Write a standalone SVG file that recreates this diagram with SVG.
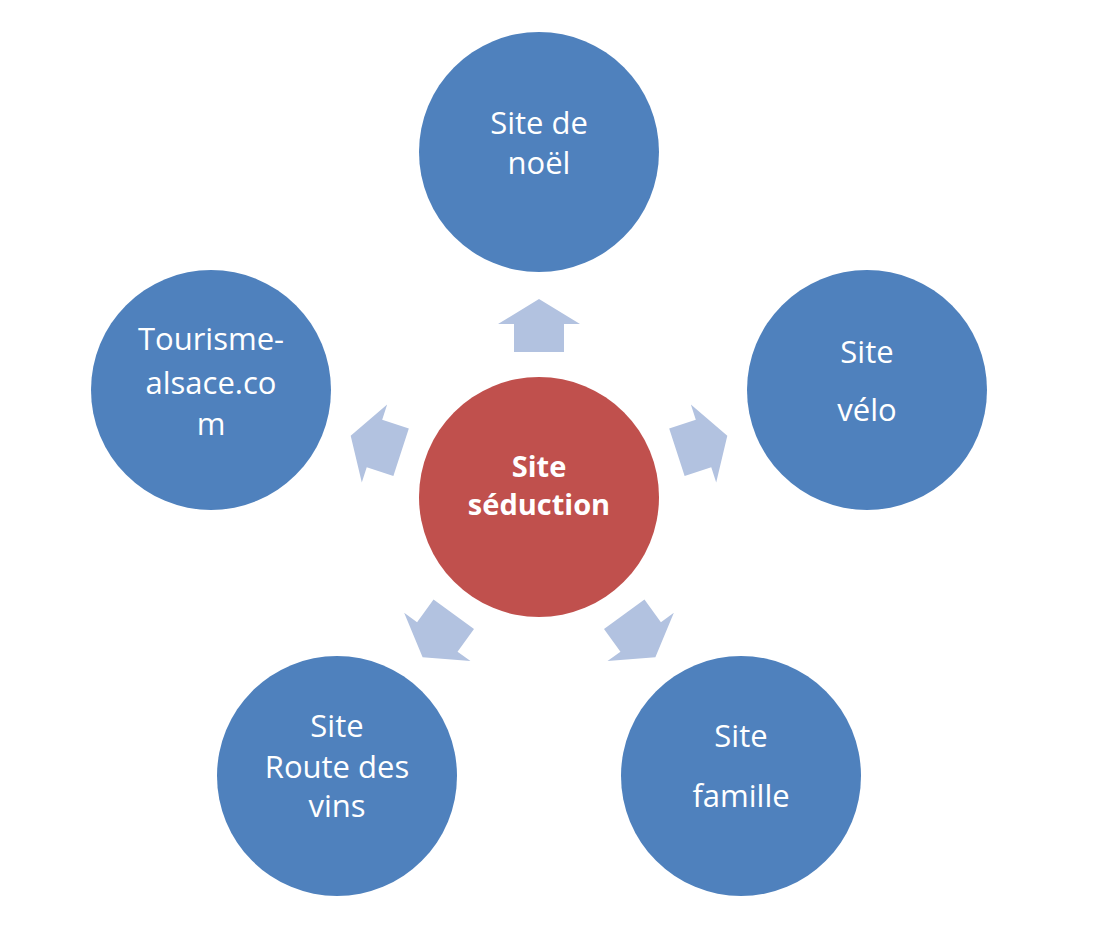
<svg xmlns="http://www.w3.org/2000/svg" width="1094" height="932" viewBox="0 0 1094 932">
<defs>
<style>
.n{fill:#4F81BD}
.c{fill:#C0504D}
.a{fill:#B2C2E0}
text{font-family:"Open Sans","Noto Sans",sans-serif;font-size:31px;fill:#fff;text-anchor:middle}
.b{font-weight:bold;font-size:29px}
</style>
<path id="arr" d="M539,299 L580,324 L564,324 L564,352 L514,352 L514,324 L498,324 Z"/>
</defs>
<rect width="1094" height="932" fill="#fff"/>
<g id="connectors" class="a">
<use href="#arr"/>
<use href="#arr" transform="rotate(72 539 497)"/>
<use href="#arr" transform="rotate(144 539 497)"/>
<use href="#arr" transform="rotate(216 539 497)"/>
<use href="#arr" transform="rotate(288 539 497)"/>
</g>
<g id="center"><circle class="c" cx="539" cy="497" r="120"/><text class="b" x="539" y="477">Site</text><text class="b" x="539" y="515">séduction</text></g>
<g id="noel"><circle class="n" cx="539" cy="152" r="120"/><text x="539" y="134">Site de</text><text x="539" y="174">noël</text></g>
<g id="velo"><circle class="n" cx="867" cy="390" r="120"/><text x="867" y="363">Site</text><text x="867" y="421">vélo</text></g>
<g id="tourisme"><circle class="n" cx="211" cy="390" r="120"/><text x="211" y="350">Tourisme-</text><text x="211" y="394">alsace.co</text><text x="211" y="435">m</text></g>
<g id="vins"><circle class="n" cx="337" cy="776" r="120"/><text x="337" y="737">Site</text><text x="337" y="778">Route des</text><text x="337" y="817">vins</text></g>
<g id="famille"><circle class="n" cx="741" cy="776" r="120"/><text x="741" y="747">Site</text><text x="741" y="807">famille</text></g>
</svg>
